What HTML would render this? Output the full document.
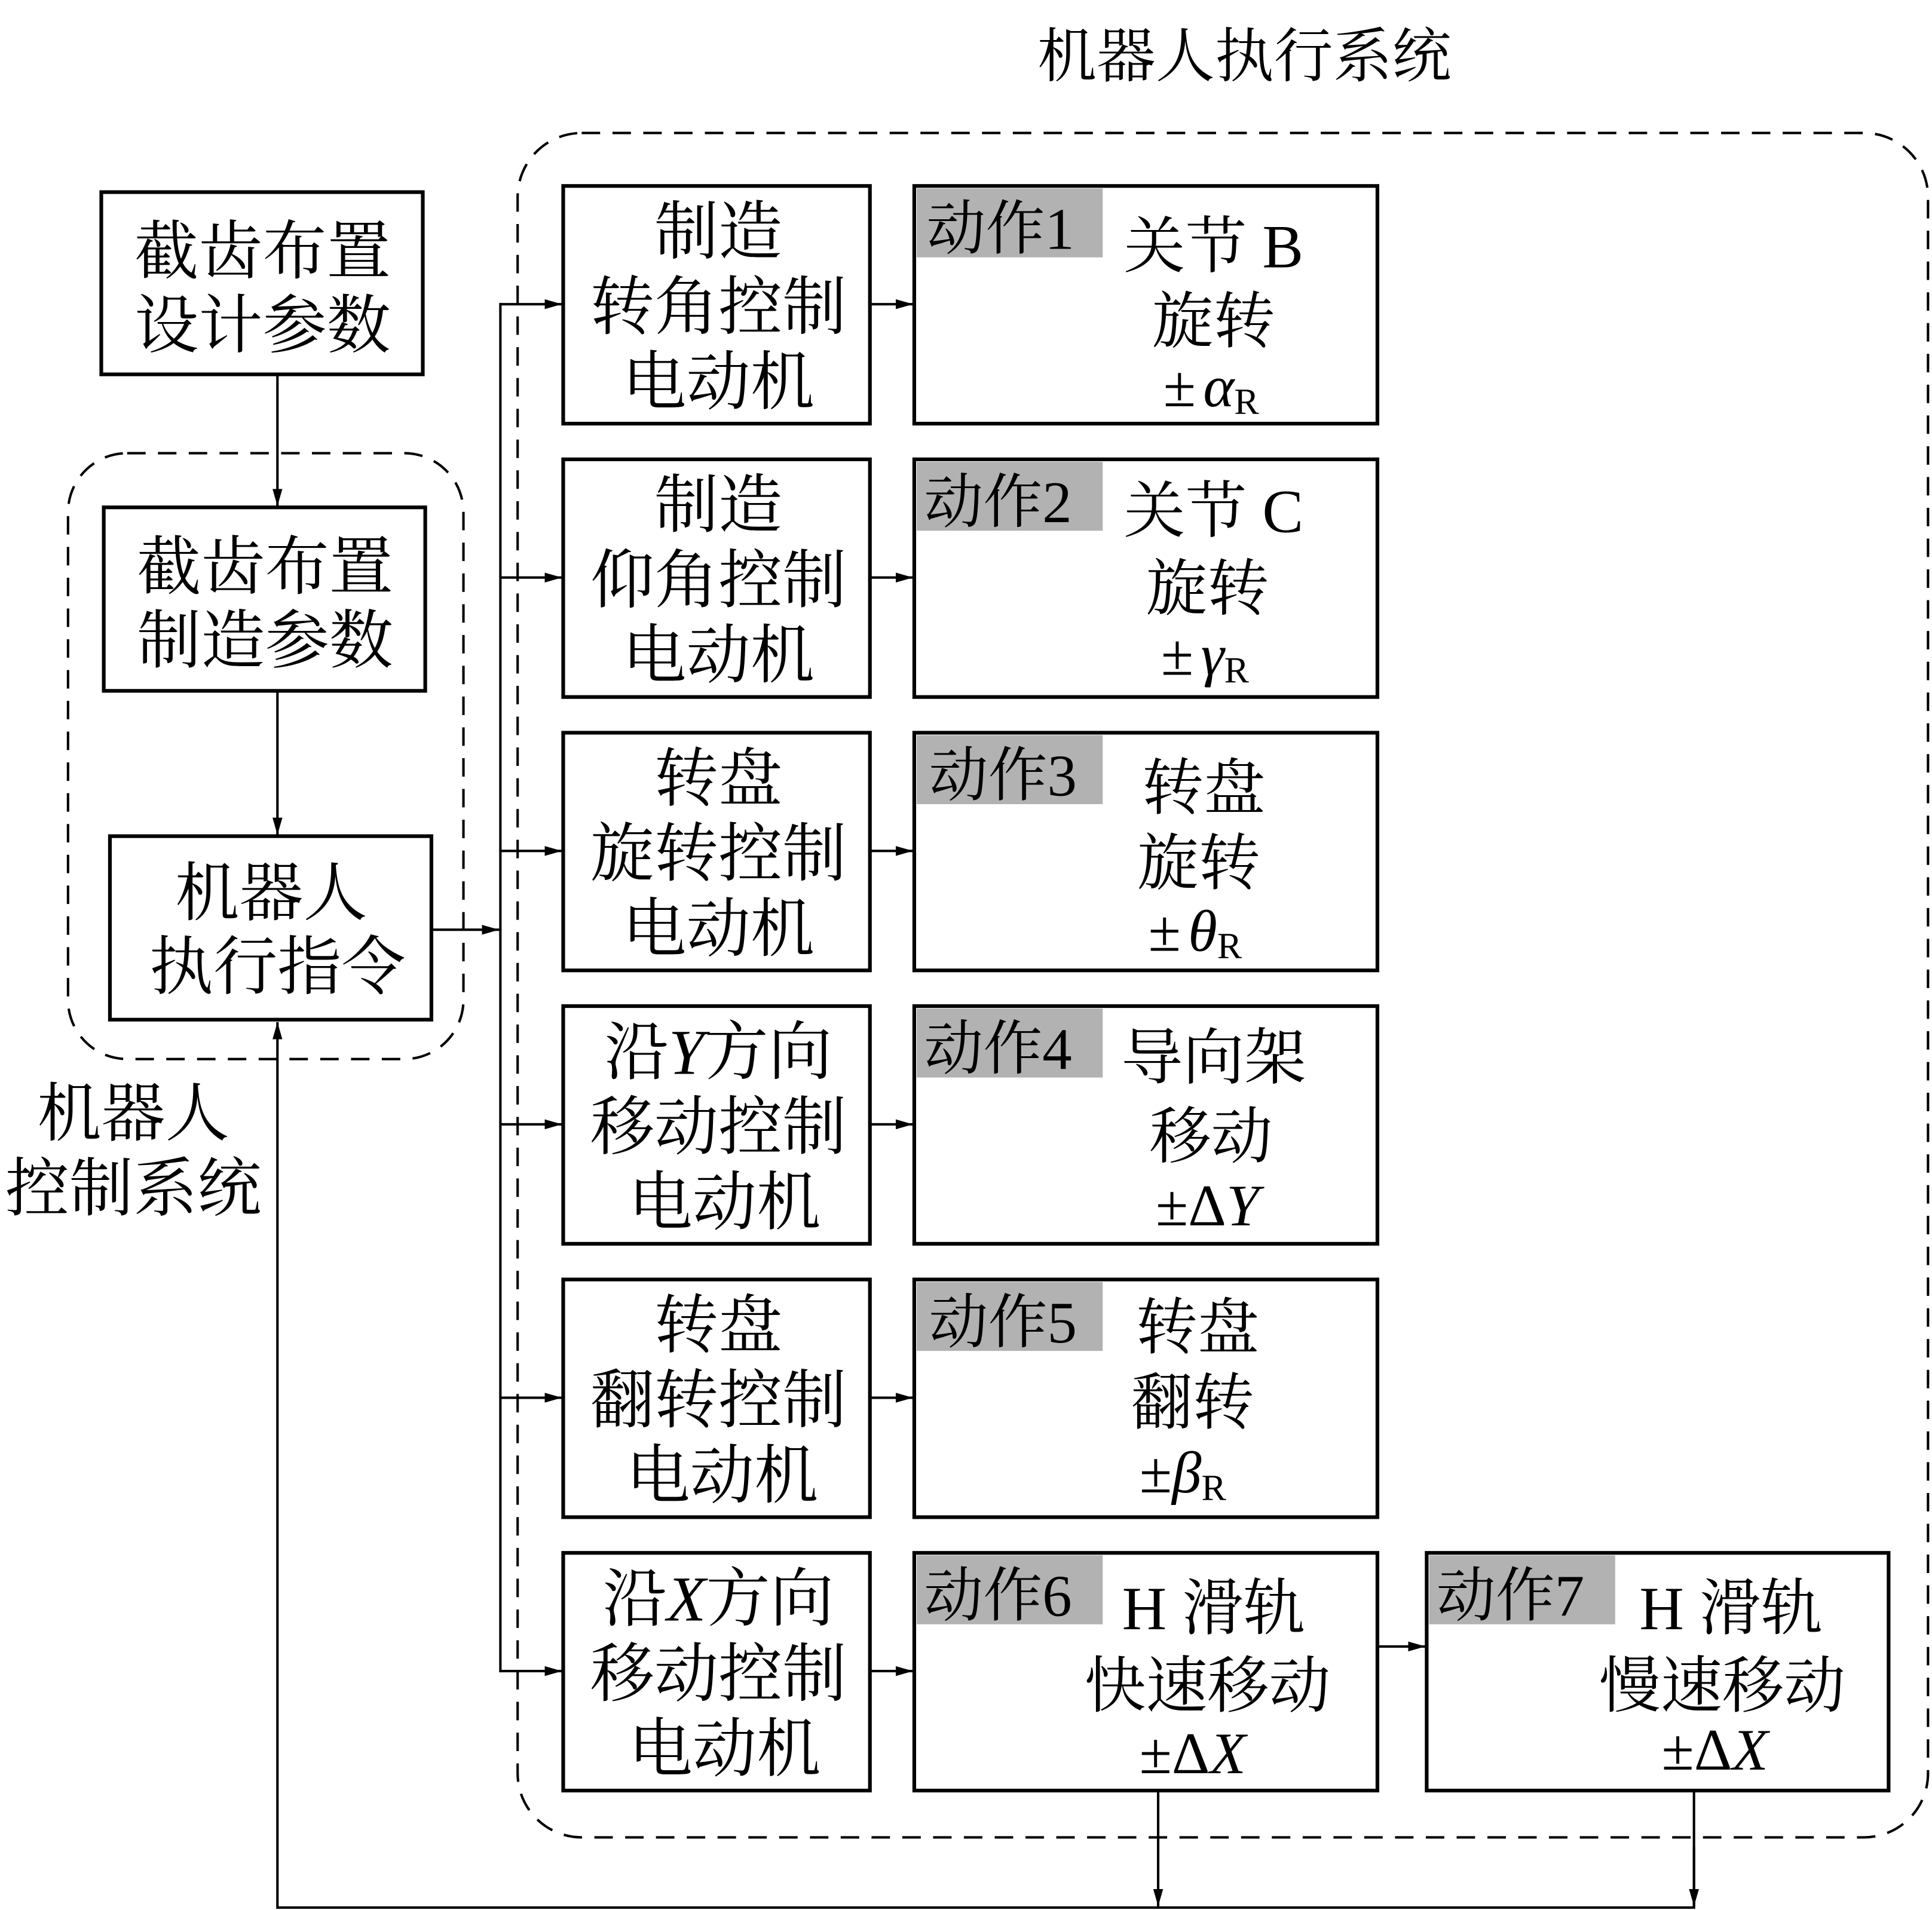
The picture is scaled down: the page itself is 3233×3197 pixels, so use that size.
<!DOCTYPE html>
<html><head><meta charset="utf-8"><style>
html,body{margin:0;padding:0;background:#fff}
svg{display:block}
text{font-family:"Liberation Serif","Noto Serif CJK SC",serif;fill:#000}
</style></head><body>
<svg width="3233" height="3197" viewBox="0 0 1568 1551" xmlns="http://www.w3.org/2000/svg">
<defs>
<marker id="a" viewBox="0 0 14 8" refX="14" refY="4" markerWidth="14" markerHeight="8" markerUnits="userSpaceOnUse" orient="auto"><path d="M0,0 L14,4 L0,8 Z" fill="#000"/></marker>
</defs>
<text x="1010" y="62" font-size="48" text-anchor="middle">机器人执行系统</text>
<rect x="420" y="108" width="1145" height="1384" rx="52" fill="none" stroke="#000" stroke-width="2" stroke-dasharray="15,10"/>
<rect x="55" y="368" width="321" height="492" rx="48" fill="none" stroke="#000" stroke-width="2" stroke-dasharray="15,10"/>
<g fill="#fff" stroke="#000" stroke-width="3">
<rect x="82" y="156" width="261" height="148"/>
<rect x="84" y="412" width="261" height="149"/>
<rect x="89" y="679" width="261" height="149"/>
</g>
<g font-size="52" text-anchor="middle">
<text x="213" y="222">截齿布置</text><text x="213" y="282">设计参数</text>
<text x="215" y="478">截齿布置</text><text x="215" y="538">制造参数</text>
<text x="220" y="743">机器人</text><text x="225" y="803">执行指令</text>
<text x="108" y="922">机器人</text><text x="108" y="983">控制系统</text>
</g>
<g stroke="#000" stroke-width="2" fill="none">
<line x1="225" y1="304" x2="225" y2="411" marker-end="url(#a)"/>
<line x1="225" y1="561" x2="225" y2="678" marker-end="url(#a)"/>
<line x1="350" y1="755" x2="405" y2="755" marker-end="url(#a)"/>
<line x1="406" y1="246" x2="406" y2="1358"/>
<polyline points="1375,1454 1375,1549 225,1549 225,830" marker-end="url(#a)"/>
<line x1="940" y1="1454" x2="940" y2="1548" marker-end="url(#a)"/>
<line x1="1375" y1="1500" x2="1375" y2="1548" marker-end="url(#a)"/>
<line x1="1118" y1="1337" x2="1157" y2="1337" marker-end="url(#a)"/>
<line x1="406" y1="247" x2="456" y2="247" marker-end="url(#a)"/>
<line x1="406" y1="469" x2="456" y2="469" marker-end="url(#a)"/>
<line x1="406" y1="691" x2="456" y2="691" marker-end="url(#a)"/>
<line x1="406" y1="913" x2="456" y2="913" marker-end="url(#a)"/>
<line x1="406" y1="1135" x2="456" y2="1135" marker-end="url(#a)"/>
<line x1="406" y1="1357" x2="456" y2="1357" marker-end="url(#a)"/>
<line x1="706" y1="247" x2="741" y2="247" marker-end="url(#a)"/>
<line x1="706" y1="469" x2="741" y2="469" marker-end="url(#a)"/>
<line x1="706" y1="691" x2="741" y2="691" marker-end="url(#a)"/>
<line x1="706" y1="913" x2="741" y2="913" marker-end="url(#a)"/>
<line x1="706" y1="1135" x2="741" y2="1135" marker-end="url(#a)"/>
<line x1="706" y1="1357" x2="741" y2="1357" marker-end="url(#a)"/>
</g>
<g fill="#fff" stroke="#000" stroke-width="3">
<rect x="457" y="151" width="249" height="193"/>
<rect x="457" y="373" width="249" height="193"/>
<rect x="457" y="595" width="249" height="193"/>
<rect x="457" y="817" width="249" height="193"/>
<rect x="457" y="1039" width="249" height="193"/>
<rect x="457" y="1261" width="249" height="193"/>
<rect x="742" y="151" width="376" height="193"/>
<rect x="742" y="373" width="376" height="193"/>
<rect x="742" y="595" width="376" height="193"/>
<rect x="742" y="817" width="376" height="193"/>
<rect x="742" y="1039" width="376" height="193"/>
<rect x="742" y="1261" width="376" height="193"/>
<rect x="1158" y="1261" width="375" height="193"/>
</g>
<g fill="#b2b2b2">
<rect x="744" y="153" width="151" height="56"/>
<rect x="744" y="375" width="151" height="56"/>
<rect x="744" y="597" width="151" height="56"/>
<rect x="744" y="819" width="151" height="56"/>
<rect x="744" y="1041" width="151" height="56"/>
<rect x="744" y="1263" width="151" height="56"/>
<rect x="1160" y="1263" width="151" height="56"/>
</g>
<g font-size="52" text-anchor="middle">
<text x="583" y="206">制造</text><text x="583" y="267">转角控制</text><text x="583" y="328">电动机</text>
<text x="583" y="428">制造</text><text x="583" y="489">仰角控制</text><text x="583" y="550">电动机</text>
<text x="583" y="650">转盘</text><text x="583" y="711">旋转控制</text><text x="583" y="772">电动机</text>
<text x="583" y="872">沿<tspan font-style="italic">Y</tspan>方向</text><text x="583" y="933">移动控制</text><text x="588" y="994">电动机</text>
<text x="583" y="1094">转盘</text><text x="583" y="1155">翻转控制</text><text x="586" y="1216">电动机</text>
<text x="583" y="1316">沿<tspan font-style="italic">X</tspan>方向</text><text x="583" y="1377">移动控制</text><text x="588" y="1438">电动机</text>
</g>
<g font-size="48">
<text x="752" y="202">动作1</text>
<text x="750" y="424">动作2</text>
<text x="754" y="646">动作3</text>
<text x="750" y="868">动作4</text>
<text x="754" y="1090">动作5</text>
<text x="750" y="1312">动作6</text>
<text x="1166" y="1312">动作7</text>
</g>
<g font-size="50" text-anchor="middle">
<text x="985" y="217">关节 B</text><text x="985" y="278">旋转</text>
<text x="985" y="432">关节 C</text><text x="980" y="495">旋转</text>
<text x="977" y="657">转盘</text><text x="973" y="718">旋转</text>
<text x="985" y="876">导向架</text><text x="983" y="940">移动</text>
<text x="972" y="1095">转盘</text><text x="968" y="1156">翻转</text>
<text x="985" y="1323">H 滑轨</text><text x="980" y="1386">快速移动</text>
<text x="1405" y="1323">H 滑轨</text><text x="1398" y="1386">慢速移动</text>
</g>
<g font-size="48" text-anchor="middle">
<text x="983" y="330">±<tspan font-style="italic" dx="6">α</tspan><tspan font-size="30" dy="6">R</tspan></text>
<text x="978" y="548">±<tspan font-style="italic" dx="6">γ</tspan><tspan font-size="30" dy="6">R</tspan></text>
<text x="970" y="772">±<tspan font-style="italic" dx="6">θ</tspan><tspan font-size="30" dy="6">R</tspan></text>
<text x="980" y="995">±Δ<tspan font-style="italic">Y</tspan></text>
<text x="960" y="1212">±<tspan font-style="italic">β</tspan><tspan font-size="30" dy="6">R</tspan></text>
<text x="968" y="1440">±Δ<tspan font-style="italic">X</tspan></text>
<text x="1392" y="1437">±Δ<tspan font-style="italic">X</tspan></text>
</g>
</svg>
</body></html>
